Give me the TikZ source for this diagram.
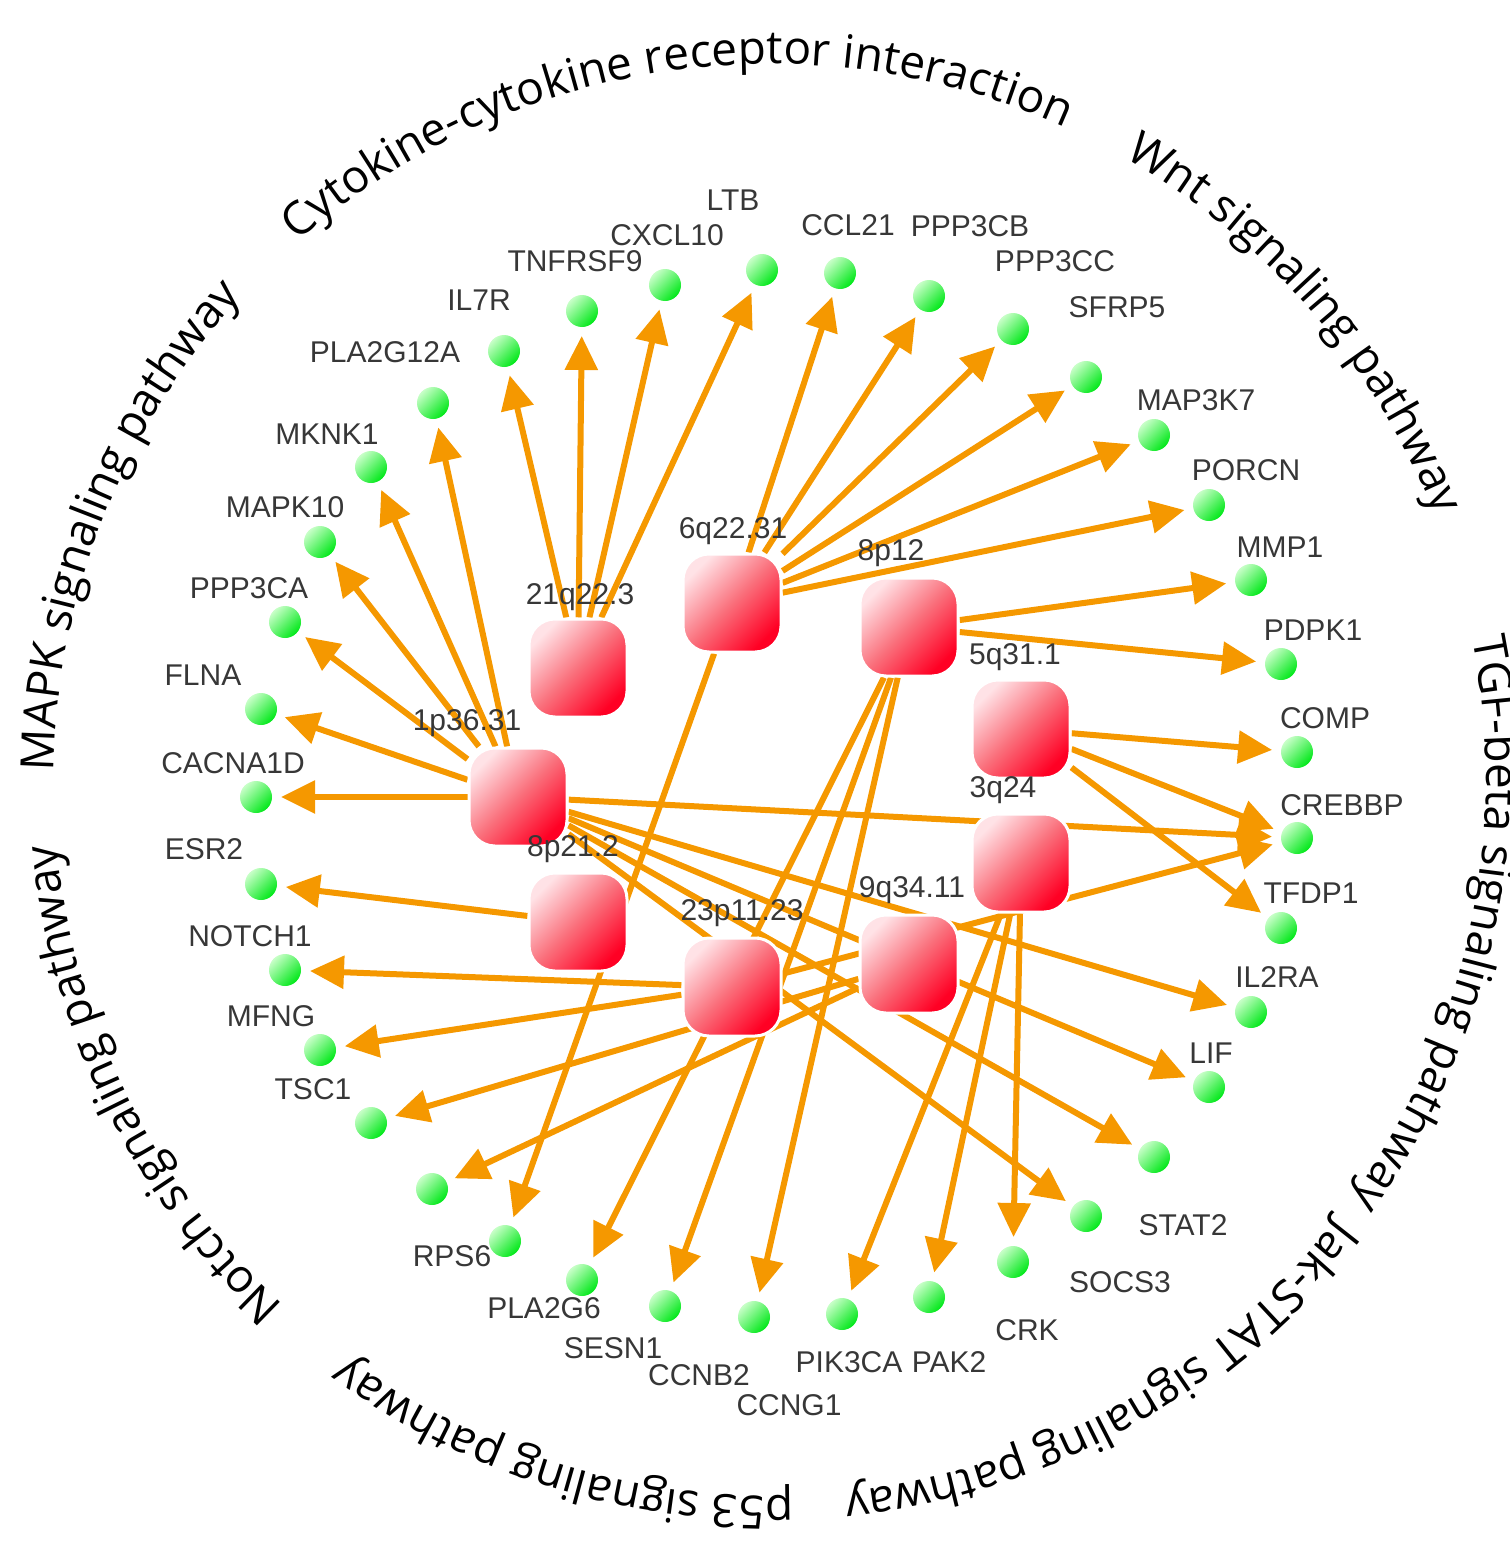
\documentclass[tikz,border=0pt]{standalone}
\usepackage{fontspec}
\setmainfont{Liberation Sans}
\newfontfamily\arcfamily{Open Sans}
\usetikzlibrary{arrows.meta,backgrounds,decorations.text}
\definecolor{EdgeOrange}{RGB}{245,152,0}
\definecolor{HubLight}{RGB}{255,226,230}
\definecolor{HubMid}{RGB}{250,112,124}
\definecolor{HubRed}{RGB}{255,0,36}
\definecolor{GeneLight}{RGB}{200,255,200}
\definecolor{GeneGreen}{RGB}{0,232,24}
\definecolor{LabelGray}{RGB}{55,55,55}
\tikzset{
  hub/.style={rectangle,rounded corners=26pt,minimum width=98pt,minimum height=98pt,
    inner sep=0pt,draw=white,line width=3pt,top color=HubLight,bottom color=HubRed,
    middle color=HubMid,shading angle=45},
  gene/.style={circle,minimum size=32pt,inner sep=0pt,outer sep=9pt,
    top color=GeneLight,bottom color=GeneGreen,shading angle=45},
  hublabel/.style={text=LabelGray,font=\fontsize{30}{34}\selectfont,inner sep=0pt},
  genelabel/.style={text=LabelGray,font=\fontsize{30}{34}\selectfont,inner sep=0pt},
  link/.style={-{Triangle[length=34pt,width=32pt]},line width=6pt,draw=EdgeOrange},
  pathway/.style={decorate,decoration={text along path,text align=center,
    text={|\arcfamily\fontsize{46}{52}\selectfont|#1}}}
}

\begin{document}
\begin{tikzpicture}[x=1pt,y=-1pt]
      \useasboundingbox (0,0) rectangle (1509,1549);
      \coordinate (ring) at (770,780);
      \path[pathway={Cytokine-cytokine receptor interaction}] ([shift={(-143.5:716)}]ring) arc[start angle=-143.5,end angle=-53.5,radius=716];
      \path[pathway={Wnt signaling pathway}] ([shift={(-81:716)}]ring) arc[start angle=-81,end angle=-1,radius=716];
      \path[pathway={TGF-beta signaling pathway}] ([shift={(-32.8:716)}]ring) arc[start angle=-32.8,end angle=57.2,radius=716];
      \path[pathway={Jak-STAT signaling pathway}] ([shift={(15.9:716)}]ring) arc[start angle=15.9,end angle=105.9,radius=716];
      \path[pathway={p53 signaling pathway}] ([shift={(67.2:716)}]ring) arc[start angle=67.2,end angle=147.2,radius=716];
      \path[pathway={Notch signaling pathway}] ([shift={(108.8:716)}]ring) arc[start angle=108.8,end angle=198.8,radius=716];
      \path[pathway={MAPK signaling pathway}] ([shift={(161.6:716)}]ring) arc[start angle=161.6,end angle=241.6,radius=716];

      \node[hub] (b21q22) at (578,668) {};
      \node[hub] (b6q22) at (732,603) {};
      \node[hub] (b8p12) at (909,627) {};
      \node[hub] (b5q31) at (1021,729) {};
      \node[hub] (b3q24) at (1021,863) {};
      \node[hub] (b1p36) at (518,797) {};
      \node[hub] (b8p21) at (578,922) {};
      \node[hub] (b23p11) at (732,987) {};
      \node[hub] (b9q34) at (909,964) {};

      \node[hublabel] (t21q22) at (580,597) {21q22.3};
      \node[hublabel] (t6q22) at (733,531) {6q22.31};
      \node[hublabel] (t8p12) at (891,553) {8p12};
      \node[hublabel] (t5q31) at (1015,657) {5q31.1};
      \node[hublabel] (t3q24) at (1003,790) {3q24};
      \node[hublabel] (t1p36) at (467,723) {1p36.31};
      \node[hublabel] (t8p21) at (573,849) {8p21.2};
      \node[hublabel] (t23p11) at (742,913) {23p11.23};
      \node[hublabel] (t9q34) at (912,890) {9q34.11};

      \node[gene] (ltb) at (762,270) {};
      \node[gene] (cxcl10) at (665,285) {};
      \node[gene] (tnfrsf9) at (582,311) {};
      \node[gene] (il7r) at (504,351) {};
      \node[gene] (pla2g12a) at (433,403) {};
      \node[gene] (mknk1) at (371,467) {};
      \node[gene] (mapk10) at (320,542) {};
      \node[gene] (ppp3ca) at (285,622) {};
      \node[gene] (flna) at (261,709) {};
      \node[gene] (cacna1d) at (256,797) {};
      \node[gene] (esr2) at (261,884) {};
      \node[gene] (notch1) at (285,970) {};
      \node[gene] (mfng) at (320,1050) {};
      \node[gene] (tsc1) at (371,1123) {};
      \node[gene] (rps6) at (432,1189) {};
      \node[gene] (pla2g6) at (505,1241) {};
      \node[gene] (sesn1) at (582,1280) {};
      \node[gene] (ccnb2) at (665,1306) {};
      \node[gene] (ccng1) at (754,1317) {};
      \node[gene] (pik3ca) at (842,1314) {};
      \node[gene] (pak2) at (929,1297) {};
      \node[gene] (crk) at (1013,1262) {};
      \node[gene] (socs3) at (1086,1216) {};
      \node[gene] (stat2) at (1154,1157) {};
      \node[gene] (lif) at (1209,1087) {};
      \node[gene] (il2ra) at (1251,1012) {};
      \node[gene] (tfdp1) at (1281,928) {};
      \node[gene] (crebbp) at (1297,838) {};
      \node[gene] (comp) at (1297,752) {};
      \node[gene] (pdpk1) at (1281,664) {};
      \node[gene] (mmp1) at (1251,580) {};
      \node[gene] (porcn) at (1209,505) {};
      \node[gene] (map3k7) at (1154,435) {};
      \node[gene] (sfrp5) at (1086,377) {};
      \node[gene] (ppp3cc) at (1013,329) {};
      \node[gene] (ppp3cb) at (929,296) {};
      \node[gene] (ccl21) at (840,273) {};

      \node[genelabel] (ltbtext) at (733,200) {LTB};
      \node[genelabel] (cxcl10text) at (667,235) {CXCL10};
      \node[genelabel] (tnfrsf9text) at (575,261) {TNFRSF9};
      \node[genelabel] (il7rtext) at (479,300) {IL7R};
      \node[genelabel] (pla2g12atext) at (385,352) {PLA2G12A};
      \node[genelabel] (mknk1text) at (327,434) {MKNK1};
      \node[genelabel] (mapk10text) at (285,507) {MAPK10};
      \node[genelabel] (ppp3catext) at (249,588) {PPP3CA};
      \node[genelabel] (flnatext) at (203,675) {FLNA};
      \node[genelabel] (cacna1dtext) at (233,763) {CACNA1D};
      \node[genelabel] (esr2text) at (204,849) {ESR2};
      \node[genelabel] (notch1text) at (250,936) {NOTCH1};
      \node[genelabel] (mfngtext) at (271,1016) {MFNG};
      \node[genelabel] (tsc1text) at (313,1089) {TSC1};
      \node[genelabel] (rps6text) at (452,1256) {RPS6};
      \node[genelabel] (pla2g6text) at (544,1308) {PLA2G6};
      \node[genelabel] (sesn1text) at (613,1348) {SESN1};
      \node[genelabel] (ccnb2text) at (699,1375) {CCNB2};
      \node[genelabel] (ccng1text) at (789,1405) {CCNG1};
      \node[genelabel] (pik3catext) at (849,1362) {PIK3CA};
      \node[genelabel] (pak2text) at (949,1362) {PAK2};
      \node[genelabel] (crktext) at (1027,1330) {CRK};
      \node[genelabel] (socs3text) at (1120,1282) {SOCS3};
      \node[genelabel] (stat2text) at (1183,1225) {STAT2};
      \node[genelabel] (liftext) at (1211,1053) {LIF};
      \node[genelabel] (il2ratext) at (1277,977) {IL2RA};
      \node[genelabel] (tfdp1text) at (1311,893) {TFDP1};
      \node[genelabel] (crebbptext) at (1342,805) {CREBBP};
      \node[genelabel] (comptext) at (1325,718) {COMP};
      \node[genelabel] (pdpk1text) at (1313,630) {PDPK1};
      \node[genelabel] (mmp1text) at (1280,547) {MMP1};
      \node[genelabel] (porcntext) at (1246,470) {PORCN};
      \node[genelabel] (map3k7text) at (1196,400) {MAP3K7};
      \node[genelabel] (sfrp5text) at (1117,307) {SFRP5};
      \node[genelabel] (ppp3cctext) at (1055,261) {PPP3CC};
      \node[genelabel] (ppp3cbtext) at (970,226) {PPP3CB};
      \node[genelabel] (ccl21text) at (848,225) {CCL21};

      \begin{scope}[on background layer]
      \draw[link] (b1p36) -- (pla2g12a);
      \draw[link] (b1p36) -- (mknk1);
      \draw[link] (b1p36) -- (mapk10);
      \draw[link] (b1p36) -- (ppp3ca);
      \draw[link] (b1p36) -- (flna);
      \draw[link] (b1p36) -- (cacna1d);
      \draw[link] (b1p36) -- (crebbp);
      \draw[link] (b1p36) -- (il2ra);
      \draw[link] (b1p36) -- (lif);
      \draw[link] (b1p36) -- (stat2);
      \draw[link] (b1p36) -- (socs3);
      \draw[link] (b21q22) -- (il7r);
      \draw[link] (b21q22) -- (tnfrsf9);
      \draw[link] (b21q22) -- (cxcl10);
      \draw[link] (b21q22) -- (ltb);
      \draw[link] (b6q22) -- (ccl21);
      \draw[link] (b6q22) -- (ppp3cb);
      \draw[link] (b6q22) -- (ppp3cc);
      \draw[link] (b6q22) -- (sfrp5);
      \draw[link] (b6q22) -- (map3k7);
      \draw[link] (b6q22) -- (porcn);
      \draw[link] (b6q22) -- (pla2g6);
      \draw[link] (b8p12) -- (mmp1);
      \draw[link] (b8p12) -- (pdpk1);
      \draw[link] (b8p12) -- (sesn1);
      \draw[link] (b8p12) -- (ccnb2);
      \draw[link] (b8p12) -- (ccng1);
      \draw[link] (b5q31) -- (comp);
      \draw[link] (b5q31) -- (crebbp);
      \draw[link] (b5q31) -- (tfdp1);
      \draw[link] (b3q24) -- (pik3ca);
      \draw[link] (b3q24) -- (pak2);
      \draw[link] (b3q24) -- (crk);
      \draw[link] (b8p21) -- (esr2);
      \draw[link] (b23p11) -- (notch1);
      \draw[link] (b23p11) -- (mfng);
      \draw[link] (b23p11) -- (crebbp);
      \draw[link] (b9q34) -- (tsc1);
      \draw[link] (b9q34) -- (rps6);
      \end{scope}
    \end{tikzpicture}
\end{document}
